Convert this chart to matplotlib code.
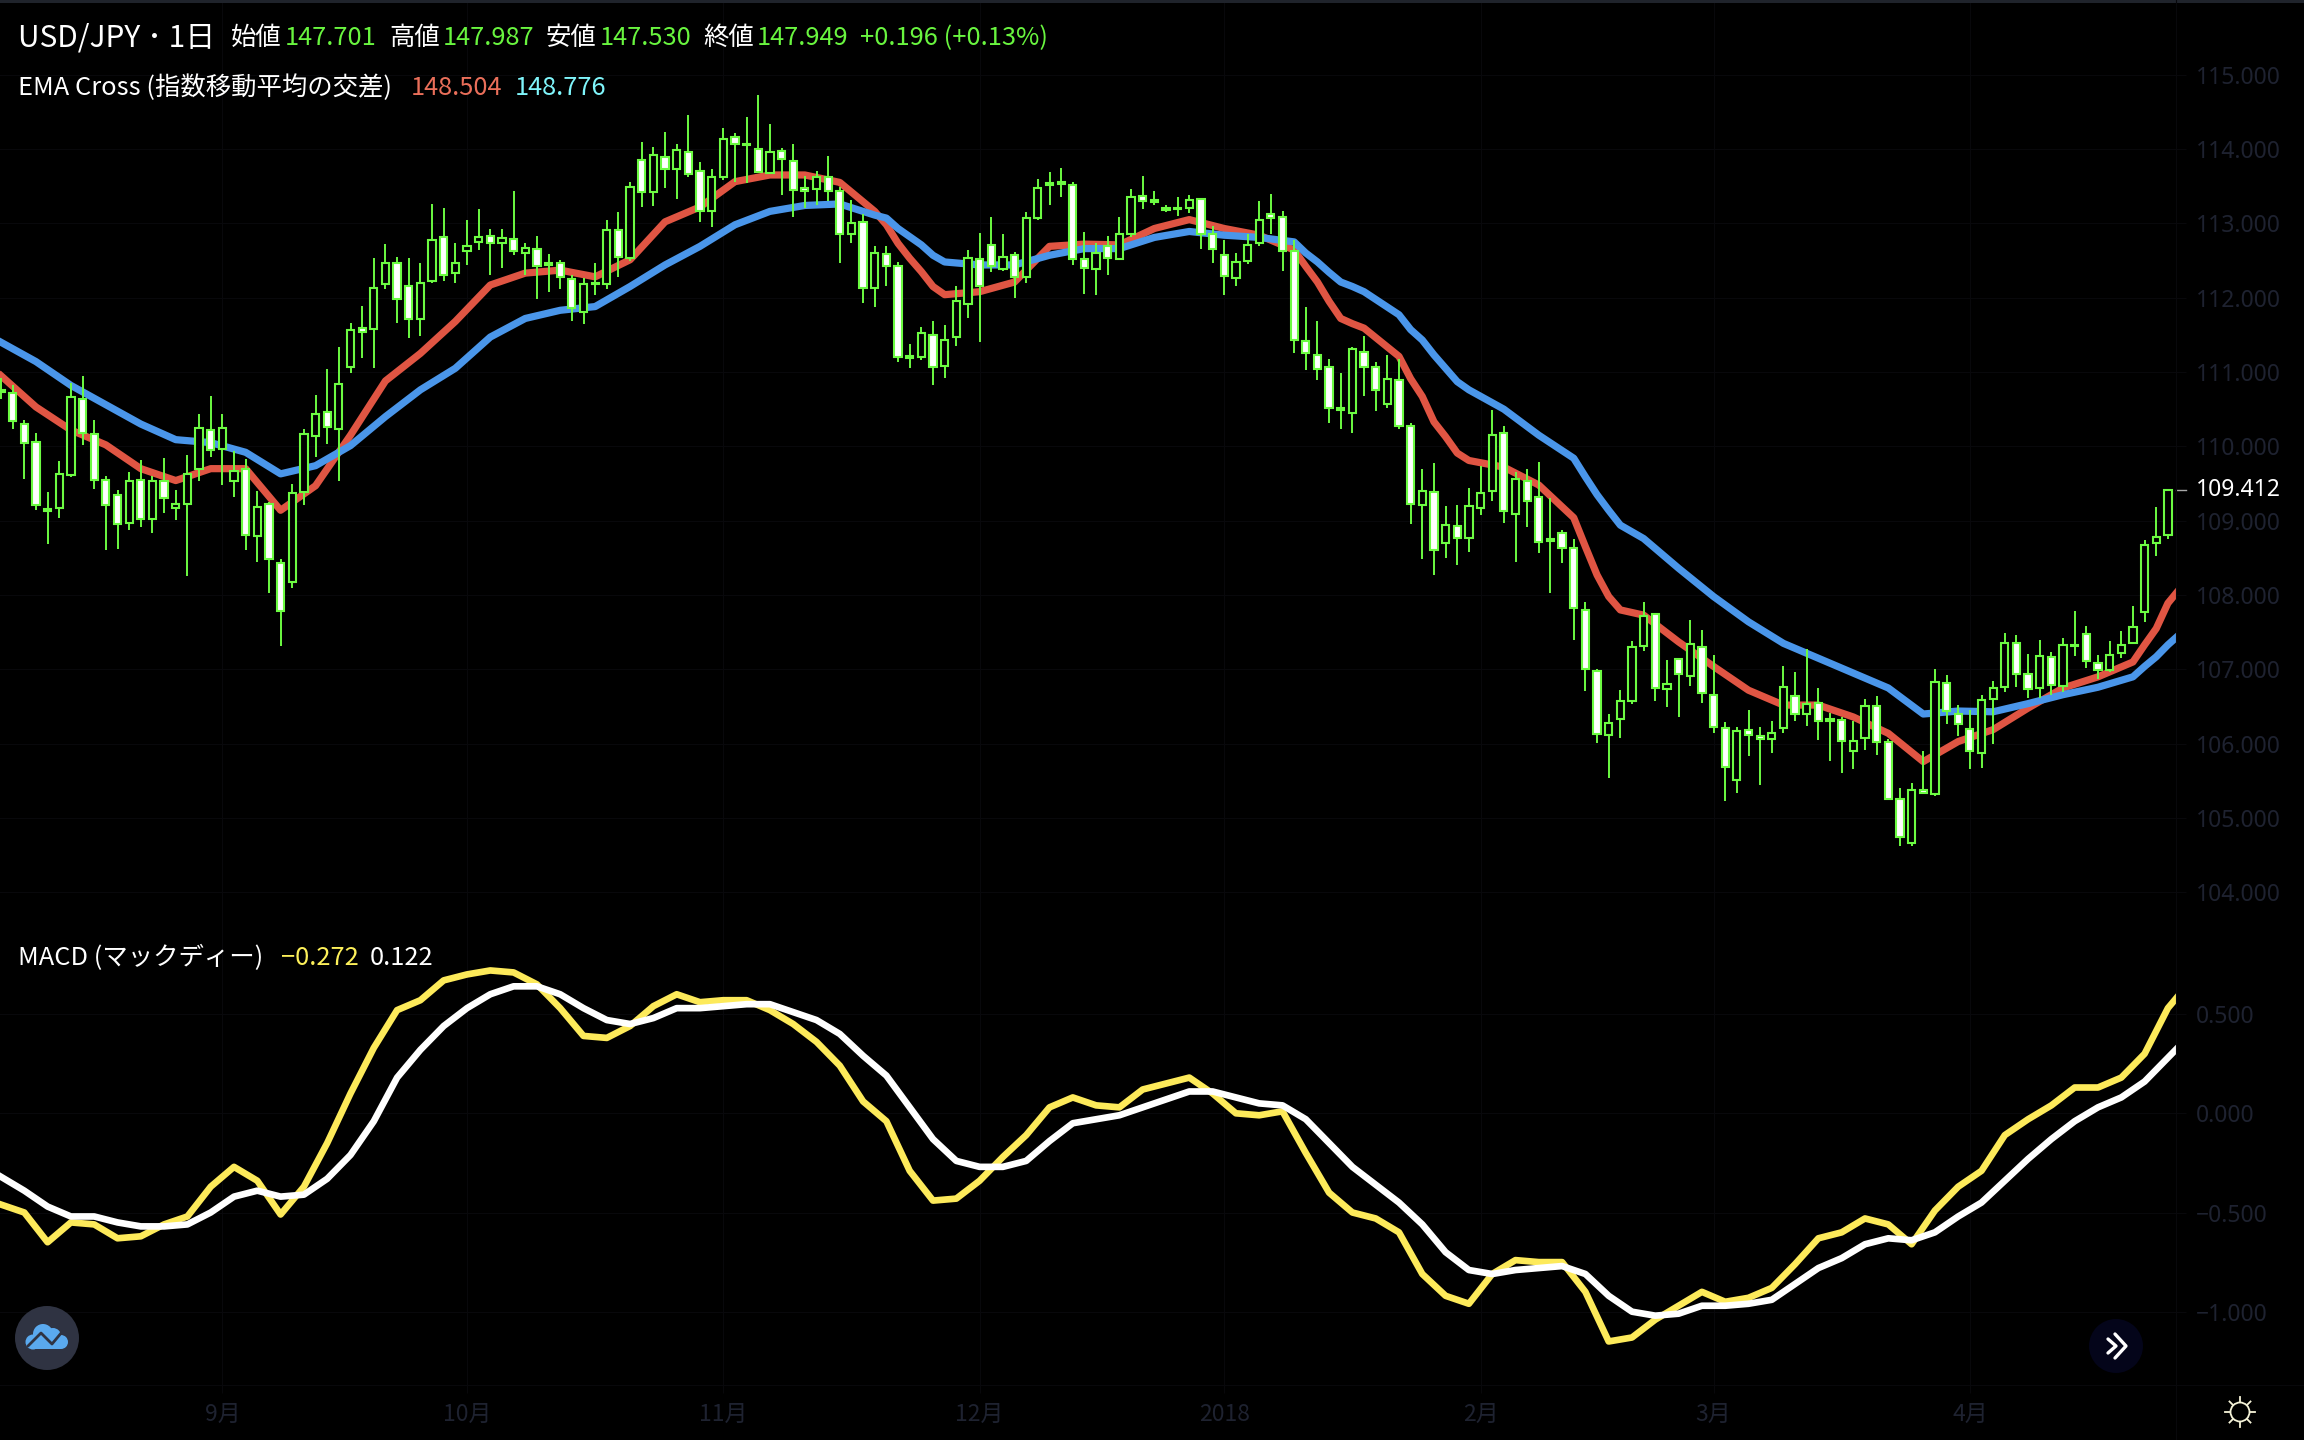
import matplotlib
matplotlib.use("Agg")
import matplotlib.pyplot as plt
from matplotlib.patches import Circle, Rectangle
from matplotlib.transforms import blended_transform_factory

plt.rcParams['font.family'] = ['Noto Sans CJK JP', 'DejaVu Sans']

# ---------- data ----------
opens = [110.76,110.72,110.30,110.06,109.16,109.17,109.61,110.64,110.17,109.55,
         109.34,108.97,109.55,109.02,109.53,109.17,109.23,109.70,110.22,109.97,
         109.53,109.70,108.80,109.22,108.43,108.17,109.39,110.14,110.46,110.23,
         111.07,111.59,111.58,112.19,112.46,112.15,111.71,112.22,112.82,112.33,
         112.63,112.75,112.83,112.74,112.79,112.60,112.65,112.47,112.47,112.25,
         111.81,112.20,112.18,112.91,112.53,113.85,113.42,113.89,113.73,113.96,
         113.70,113.17,113.62,114.16,114.07,114.00,113.68,113.97,113.84,113.48,
         113.46,113.62,113.43,112.86,113.02,112.13,112.59,112.43,111.21,111.20,
         111.50,111.08,111.47,111.91,112.52,112.71,112.38,112.57,112.28,113.07,
         113.54,113.55,113.51,112.52,112.38,112.69,112.52,112.86,113.37,113.31,
         113.21,113.21,113.21,113.33,112.85,112.58,112.27,112.49,112.73,113.12,
         113.08,112.63,111.42,111.23,111.07,110.52,110.45,111.27,111.07,110.57,
         110.89,110.27,109.21,109.39,108.70,108.93,108.77,109.17,109.40,110.18,
         109.09,109.53,109.32,108.75,108.83,108.63,107.80,106.98,106.12,106.33,
         106.57,107.31,107.74,106.74,107.14,106.91,107.30,106.66,106.21,105.51,
         106.18,106.10,106.06,106.21,106.64,106.40,106.55,106.33,106.32,105.90,
         106.08,106.51,106.02,105.26,104.67,105.38,105.32,106.82,106.40,106.20,
         105.87,106.60,106.76,107.36,106.94,106.75,107.17,106.78,107.33,107.48,
         107.09,106.99,107.22,107.35,107.77,108.70,108.81]
closes = [110.73,110.34,110.05,109.21,109.13,109.63,110.66,110.18,109.55,109.21,
          108.96,109.54,109.02,109.53,109.30,109.23,109.63,110.25,109.95,110.25,
          109.67,108.81,109.19,108.49,107.79,109.37,110.16,110.44,110.26,110.84,
          111.57,111.54,112.13,112.47,111.98,111.71,112.20,112.78,112.31,112.47,
          112.70,112.81,112.73,112.80,112.63,112.67,112.42,112.44,112.28,111.86,
          112.19,112.18,112.91,112.55,113.49,113.42,113.92,113.73,113.99,113.66,
          113.17,113.62,114.13,114.06,114.05,113.69,113.96,113.86,113.45,113.44,
          113.62,113.44,112.86,113.00,112.13,112.60,112.42,111.20,111.19,111.53,
          111.07,111.43,111.95,112.54,112.16,112.42,112.55,112.28,113.07,113.48,
          113.52,113.53,112.52,112.40,112.60,112.53,112.86,113.36,113.30,113.29,
          113.18,113.19,113.32,112.85,112.65,112.29,112.48,112.71,113.04,113.07,
          112.63,111.43,111.26,111.04,110.51,110.49,111.31,111.07,110.76,110.91,
          110.27,109.22,109.40,108.61,108.94,108.77,109.20,109.37,110.15,109.13,
          109.56,109.27,108.71,108.73,108.63,107.83,107.00,106.13,106.28,106.57,
          107.30,107.72,106.75,106.80,106.94,107.34,106.68,106.22,105.69,106.17,
          106.12,106.07,106.15,106.76,106.40,106.53,106.31,106.31,106.04,106.04,
          106.51,106.02,105.26,104.75,105.38,105.34,106.83,106.44,106.27,105.90,
          106.59,106.75,107.36,106.94,106.74,107.18,106.79,107.33,107.31,107.11,
          106.99,107.19,107.33,107.57,108.67,108.78,109.41]
highs = [110.92,110.83,110.35,110.18,109.39,109.80,110.85,110.95,110.36,109.60,
         109.41,109.65,109.82,109.60,109.84,109.41,109.89,110.44,110.68,110.44,
         109.94,109.83,109.40,109.25,108.48,109.50,110.24,110.69,111.04,111.33,
         111.66,111.89,112.53,112.72,112.55,112.53,112.47,113.26,113.20,112.73,
         113.05,113.19,112.93,112.92,113.43,112.74,112.83,112.59,112.50,112.30,
         112.27,112.47,113.05,113.15,113.56,114.09,114.02,114.23,114.06,114.45,
         113.83,113.73,114.28,114.21,114.43,114.73,114.34,114.01,114.06,113.64,
         113.71,113.91,113.49,113.32,113.12,112.70,112.70,112.48,111.37,111.61,
         111.68,111.63,112.16,112.64,112.87,113.08,112.86,112.62,113.15,113.59,
         113.69,113.75,113.56,112.88,112.74,112.83,113.08,113.46,113.64,113.44,
         113.25,113.35,113.38,113.33,112.97,112.78,112.60,112.86,113.30,113.39,
         113.17,112.78,111.87,111.69,111.18,110.98,111.33,111.48,111.13,111.23,
         111.17,110.32,109.69,109.77,109.20,109.21,109.44,109.74,110.49,110.27,
         109.65,109.70,109.79,109.31,108.88,108.76,107.90,107.00,106.40,106.72,
         107.38,107.90,107.75,107.13,107.15,107.67,107.53,107.19,106.29,106.23,
         106.46,106.22,106.30,107.04,106.97,107.27,106.75,106.41,106.36,106.30,
         106.60,106.64,106.07,105.41,105.47,105.90,107.00,106.93,106.52,106.45,
         106.65,106.84,107.49,107.46,107.21,107.39,107.24,107.42,107.78,107.59,
         107.20,107.38,107.51,107.85,108.74,109.19,109.43]
lows = [110.64,110.24,109.56,109.14,108.68,109.03,109.59,110.02,109.43,108.60,
        108.62,108.87,108.91,108.83,109.11,109.01,108.26,109.53,109.86,109.48,
        109.32,108.61,108.44,108.03,107.31,108.10,109.21,109.86,110.03,109.53,
        110.98,111.19,111.06,112.12,111.66,111.46,111.49,112.20,112.23,112.20,
        112.44,112.64,112.30,112.40,112.57,112.30,111.98,112.07,112.12,111.68,
        111.65,112.03,112.12,112.28,112.49,113.22,113.23,113.47,113.33,113.62,
        113.02,112.95,113.58,113.55,113.54,113.68,113.68,113.38,113.09,113.21,
        113.24,113.30,112.47,112.73,111.93,111.87,112.16,111.13,111.06,111.16,
        110.83,110.92,111.35,111.73,111.41,112.35,112.36,111.99,112.20,113.05,
        113.24,113.36,112.44,112.05,112.03,112.30,112.50,112.82,113.19,113.25,
        113.15,113.10,113.14,112.65,112.47,112.04,112.15,112.45,112.70,112.86,
        112.36,111.26,111.03,110.89,110.32,110.24,110.18,110.68,110.48,110.51,
        110.24,108.96,108.49,108.27,108.50,108.41,108.58,109.08,109.27,108.97,
        108.45,108.91,108.57,108.03,108.43,107.40,106.71,106.01,105.54,106.08,
        106.54,107.25,106.58,106.50,106.36,106.78,106.55,106.15,105.23,105.34,
        105.84,105.44,105.88,106.14,106.30,106.24,106.05,105.77,105.60,105.66,
        105.91,105.85,105.26,104.62,104.62,105.34,105.30,106.26,106.10,105.66,
        105.68,105.99,106.70,106.77,106.61,106.61,106.65,106.69,107.18,107.02,
        106.87,106.97,107.15,107.34,107.64,108.53,108.76]

ema_bars = [0,3,6,9,12,15,18,21,24,27,30,33,36,39,42,45,48,51,54,57,60,63,66,69,72,75,
            76,77,78,79,80,81,84,87,90,93,96,99,102,105,108,111,112,113,114,115,116,117,
            120,121,122,123,124,125,126,129,132,135,136,137,138,139,141,144,147,150,153,
            156,159,162,165,168,171,174,177,180,183,184,185,186,187]
ema_fast = [110.95,110.53,110.22,110.02,109.70,109.54,109.70,109.70,109.14,109.47,110.15,
            110.88,111.25,111.68,112.17,112.33,112.37,112.28,112.51,113.02,113.22,
            113.56,113.65,113.65,113.55,113.16,
            112.98,112.73,112.53,112.35,112.15,112.04,112.08,112.21,112.69,
            112.72,112.71,112.93,113.05,112.93,112.84,112.64,112.42,112.21,111.95,111.72,111.65,111.59,
            111.21,110.91,110.67,110.33,110.13,109.91,109.81,109.72,109.48,109.04,108.65,108.27,107.98,107.80,
            107.73,107.37,107.04,106.72,106.52,106.52,106.36,106.14,105.76,106.03,106.19,106.48,106.75,106.90,
            107.10,107.33,107.55,107.89,108.08]
ema_slow = [111.40,111.14,110.82,110.56,110.30,110.09,110.05,109.92,109.63,109.74,110.01,
            110.40,110.76,111.05,111.47,111.72,111.83,111.88,112.15,112.44,112.69,
            112.98,113.16,113.24,113.26,113.11,
            113.07,112.93,112.82,112.71,112.57,112.48,112.44,112.44,112.57,
            112.66,112.66,112.81,112.89,112.84,112.81,112.75,112.60,112.48,112.34,112.21,112.15,112.08,
            111.77,111.57,111.43,111.23,111.05,110.87,110.76,110.50,110.15,109.84,109.59,109.35,109.14,108.94,
            108.76,108.36,107.98,107.64,107.35,107.15,106.95,106.75,106.40,106.44,106.43,106.54,106.66,106.76,
            106.90,107.04,107.17,107.33,107.47]

macd_bars = list(range(0, 187, 2)) + [187]
macd_line = [-0.46,-0.50,-0.65,-0.55,-0.56,-0.63,-0.62,-0.56,-0.52,-0.37,-0.27,-0.34,-0.51,-0.37,-0.15,0.10,
             0.33,0.52,0.57,0.67,0.70,0.72,0.71,0.65,0.53,0.39,0.38,0.44,0.54,0.60,0.56,0.57,
             0.57,0.52,0.45,0.36,0.24,0.06,-0.04,-0.29,-0.44,-0.43,-0.34,-0.22,-0.11,0.03,0.08,0.04,
             0.03,0.12,0.15,0.18,0.10,0.00,-0.01,0.01,-0.20,-0.40,-0.50,-0.53,-0.60,-0.81,-0.92,-0.96,
             -0.81,-0.74,-0.75,-0.75,-0.90,-1.15,-1.13,-1.04,-0.97,-0.90,-0.95,-0.93,-0.88,-0.76,-0.63,-0.60,
             -0.53,-0.56,-0.66,-0.49,-0.37,-0.29,-0.11,-0.03,0.04,0.13,0.13,0.18,0.30,0.53,0.60]
signal_line = [-0.32,-0.39,-0.47,-0.52,-0.52,-0.55,-0.57,-0.57,-0.56,-0.50,-0.42,-0.39,-0.42,-0.41,-0.33,-0.21,
               -0.04,0.18,0.32,0.44,0.53,0.60,0.64,0.64,0.60,0.53,0.47,0.45,0.48,0.53,0.53,0.54,
               0.55,0.55,0.51,0.47,0.40,0.29,0.19,0.03,-0.13,-0.24,-0.27,-0.27,-0.24,-0.14,-0.05,-0.03,
               -0.01,0.03,0.07,0.11,0.11,0.08,0.05,0.04,-0.03,-0.15,-0.27,-0.36,-0.45,-0.56,-0.70,-0.79,
               -0.81,-0.79,-0.78,-0.77,-0.81,-0.92,-1.00,-1.02,-1.01,-0.97,-0.97,-0.96,-0.94,-0.86,-0.78,-0.73,
               -0.66,-0.63,-0.64,-0.60,-0.52,-0.45,-0.34,-0.23,-0.13,-0.04,0.03,0.08,0.16,0.28,0.34]

price_ticks = [104, 105, 106, 107, 108, 109, 110, 111, 112, 113, 114, 115]
macd_ticks = [-1.0, -0.5, 0.0, 0.5]
month_bars = [19, 40, 62, 84, 105, 127, 147, 169]
month_labels = ['9月', '10月', '11月', '12月', '2018', '2月', '3月', '4月']
last_price = 109.412

# ---------- layout helpers (pixel frame of the 2304x1440 canvas) ----------
W, H = 2304, 1440
STEP, X0 = 11.65, 1.0
AX_R = 2176
P_TOP, P_BOT, M_BOT = 2, 925, 1385
GRID = '#08080b'
AXTXT = '#1e2230'
GREEN = '#6cfb42'

def price_at(y):
    return 109 - (y - 520.7) / 74.35
def macd_at(y):
    return (1113.3 - y) / 198.4

fig = plt.figure(figsize=(W / 100, H / 100), dpi=100, facecolor='black')
def make_ax(top, bottom):
    ax = fig.add_axes([0, 1 - bottom / H, AX_R / W, (bottom - top) / H], facecolor='black')
    ax.set_xlim((0 - X0) / STEP, (AX_R - X0) / STEP)
    for s in ax.spines.values():
        s.set_visible(False)
    ax.yaxis.tick_right()
    ax.tick_params(axis='y', length=7.2, width=0.8, color=GRID, labelcolor=AXTXT,
                   labelsize=16.5, pad=7.2)
    ax.set_xticks(month_bars)
    ax.grid(True, color=GRID, lw=0.8, zorder=0)
    ax.set_axisbelow(True)
    return ax

ax = make_ax(P_TOP, P_BOT)
ax.set_ylim(price_at(P_BOT), price_at(P_TOP))
ax.set_yticks(price_ticks)
ax.set_yticklabels(['%.3f' % v for v in price_ticks], family=['Noto Sans', 'DejaVu Sans'])
ax.tick_params(axis='x', length=0, labelbottom=False)

axm = make_ax(P_BOT, M_BOT)
axm.set_ylim(macd_at(M_BOT), macd_at(P_BOT))
axm.set_yticks(macd_ticks)
axm.set_yticklabels([('%.3f' % v).replace('-', '\u2212') for v in macd_ticks],
                    family=['Noto Sans', 'DejaVu Sans'])
axm.set_xticklabels(month_labels)
axm.tick_params(axis='x', length=5.8, width=0.8, color=GRID, labelcolor=AXTXT,
                labelsize=16.5, pad=7)

# ---------- price pane ----------
ax.plot(ema_bars, ema_fast, color='#e05543', lw=5.2, solid_joinstyle='round', zorder=2)
ax.plot(ema_bars, ema_slow, color='#4a96ea', lw=5.2, solid_joinstyle='round', zorder=2.1)
bars = range(len(opens))
ax.vlines(bars, lows, highs, color=GREEN, lw=1.4, zorder=3)
ax.bar(bars, [c - o for o, c in zip(opens, closes)], bottom=opens, width=0.62,
       color=['white' if c < o else 'black' for o, c in zip(opens, closes)],
       edgecolor=GREEN, linewidth=1.5, zorder=4)

tr = blended_transform_factory(ax.transAxes, ax.transData)
ax.plot([1, 1 + 10 / AX_R], [last_price, last_price], color='#a8a8a8', lw=1.0,
        transform=tr, clip_on=False, zorder=5)
ax.text(1 + 20 / AX_R, last_price, '%.3f' % last_price, color='white', fontsize=16.5,
        family=['Noto Sans', 'DejaVu Sans'], va='center', ha='left', transform=tr, clip_on=False)

# ---------- MACD pane ----------
axm.plot(macd_bars, macd_line, color='#fdea5a', lw=4.8, solid_joinstyle='round', zorder=2)
axm.plot(macd_bars, signal_line, color='white', lw=4.8, solid_joinstyle='round', zorder=3)

# ---------- overlay: frame lines, header text, icons ----------
ov = fig.add_axes([0, 0, 1, 1])
ov.set_xlim(0, W); ov.set_ylim(H, 0); ov.axis('off')
ov.patch.set_alpha(0)
ov.add_patch(Rectangle((0, 0), W, 2.5, color='#1f232b', lw=0))
ov.plot([0, W], [1385, 1385], color=GRID, lw=0.8)
ov.plot([AX_R, AX_R], [0, H], color=GRID, lw=0.8)

def label(x, y, s, color='white', size=18.3):
    ov.text(x, y, s, color=color, fontsize=size, va='center', ha='left')

VAL = '#69f53f'
label(18, 38, 'USD/JPY ･ 1日', size=21.5)
for x1, name, x2, val in [(231, '始値', 285, '147.701'), (389, '高値', 443, '147.987'),
                          (546, '安値', 600, '147.530'), (703, '終値', 757, '147.949')]:
    label(x1, 38, name)
    label(x2, 38, val, VAL)
label(860, 38, '+0.196 (+0.13%)', VAL)
label(18, 88, 'EMA Cross (指数移動平均の交差)')
label(411, 88, '148.504', '#ea6f5a')
label(515, 88, '148.776', '#7ff5fb')
label(18, 958, 'MACD (マックディー)')
label(281, 958, '\u22120.272', '#fdf05a')
label(370, 958, '0.122')

# logo
ov.add_patch(Circle((47, 1338), 32, color='#2f3342', lw=0))
for cx, cy, r in [(33, 1342, 7.5), (43, 1334, 10), (53, 1336, 8), (61, 1342, 7)]:
    ov.add_patch(Circle((cx, cy), r, color='#5aa9ee', lw=0))
ov.add_patch(Rectangle((33, 1339), 28, 10, color='#5aa9ee', lw=0))
ov.plot([28, 41, 52, 62], [1346, 1333, 1344, 1332], color='#2f3342', lw=2, solid_capstyle='round')

# scroll button
ov.add_patch(Circle((2116, 1346), 27, color='#04051a', lw=0))
ov.plot([2108, 2116, 2108], [1339, 1346, 1353], color='white', lw=2.4, solid_capstyle='round')
ov.plot([2115, 2126, 2115], [1334, 1346, 1358], color='white', lw=2.4, solid_capstyle='round')

# sun icon
SUN = '#f5f3d8'
ov.add_patch(Circle((2240, 1412), 9.5, fill=False, edgecolor=SUN, lw=1.3))
for dx, dy in [(1, 0), (-1, 0), (0, 1), (0, -1)]:
    ov.plot([2240 + 10 * dx, 2240 + 15 * dx], [1412 + 10 * dy, 1412 + 15 * dy], color=SUN, lw=1.3)
for dx, dy in [(1, 1), (-1, 1), (1, -1), (-1, -1)]:
    ov.plot([2240 + 7.5 * dx, 2240 + 10.5 * dx], [1412 + 7.5 * dy, 1412 + 10.5 * dy], color=SUN, lw=1.3)

fig.savefig('out.png', dpi=100, facecolor='black')
